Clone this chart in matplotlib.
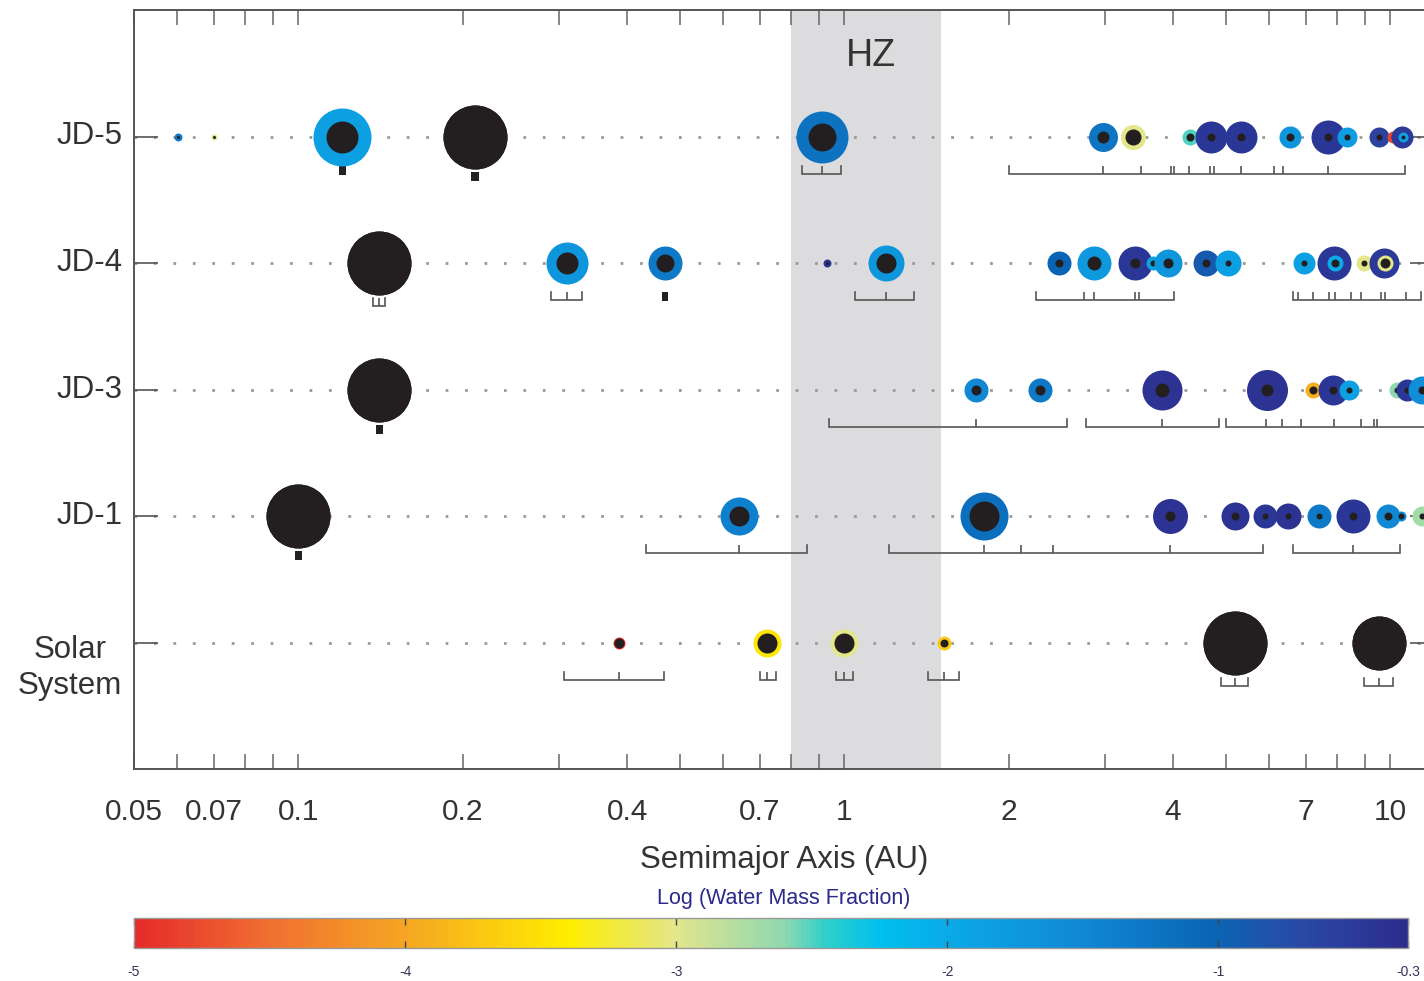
import numpy as np
import matplotlib.pyplot as plt
import matplotlib.cm as cm
from matplotlib.colors import LinearSegmentedColormap, Normalize
from matplotlib.ticker import FixedLocator, NullFormatter
from matplotlib.transforms import blended_transform_factory

plt.rcParams['font.family'] = ['Liberation Sans', 'DejaVu Sans']

# rows of the plot, top to bottom
row_names = ['JD-5', 'JD-4', 'JD-3', 'JD-1', 'Solar\nSystem']
row_y = [5, 4, 3, 2, 1]

# each planet: semimajor axis (AU), body radius, core radius, log water mass fraction
# (nan = gas giant, drawn all black)
jd5_a = [0.0603, 0.0702, 0.1204, 0.211, 0.911, 2.98, 3.38, 4.30, 4.70, 5.33, 6.56, 7.70, 8.34, 9.55, 10.1, 10.52, 10.55]
jd5_r = [4, 3, 29, 32, 26, 14.5, 12.5, 8, 16, 16, 11, 17, 10, 10, 6, 11, 5]
jd5_core = [1.5, 1.5, 16, 32, 14, 6, 8, 4, 4, 4, 4, 4, 3, 3, 2, 3, 2]
jd5_water = [-1.3, -3.0, -1.85, np.nan, -1.2, -1.25, -3.0, -2.5, -0.45, -0.45, -1.7, -0.45, -1.8, -0.6, -4.8, -0.5, -1.9]

jd4_a = [0.1407, 0.311, 0.470, 0.931, 1.194, 2.47, 2.86, 3.40, 3.68, 3.92, 4.60, 5.05, 6.96, 7.89, 7.92, 8.96, 9.75, 9.78]
jd4_r = [32, 21, 17, 4, 18, 12, 17, 17, 7, 14, 13, 13, 11, 17, 8, 8, 15, 8]
jd4_core = [32, 11, 9, 1.5, 10, 4, 7, 5, 3, 5, 4, 3, 3, 4, 4, 3, 5, 5]
jd4_water = [np.nan, -1.7, -1.3, -0.4, -1.7, -1.0, -1.75, -0.45, -1.9, -1.7, -0.9, -1.85, -1.85, -0.45, -2.0, -3.0, -0.5, -3.0]

jd3_a = [0.1407, 1.745, 2.28, 3.81, 5.95, 7.23, 7.86, 8.41, 10.30, 10.74, 11.44]
jd3_r = [32, 12, 12, 20, 20.5, 8, 15, 10, 8, 11, 14]
jd3_core = [32, 5, 5, 7, 6, 4, 4, 3, 3, 3, 4]
jd3_water = [np.nan, -1.5, -1.3, -0.4, -0.4, -3.9, -0.45, -1.85, -2.6, -0.45, -1.6]

jd1_a = [0.1, 0.642, 1.805, 3.95, 5.20, 5.90, 6.50, 7.41, 8.55, 9.92, 10.47, 11.44]
jd1_r = [32, 19, 24, 17.5, 14, 12, 13, 12, 17, 12, 5, 10]
jd1_core = [32, 10, 15, 5, 4, 3, 3, 3, 4, 4, 3, 3]
jd1_water = [np.nan, -1.4, -1.15, -0.4, -0.4, -0.45, -0.4, -1.3, -0.45, -1.5, -1.5, -2.7]

ss_a = [0.387, 0.723, 1.0, 1.524, 5.203, 9.537]
ss_r = [6, 14, 14, 7, 32, 27]
ss_core = [5, 10, 10, 4, 32, 27]
ss_water = [-5.0, -3.45, -3.0, -3.7, np.nan, np.nan]

# perihelion-aphelion ranges: (min, max, [marked a values])
jd5_br = [(0.1185, 0.1222, [0.1204]), (0.2075, 0.2145, [0.211]), (0.838, 0.987, [0.911]),
          (2.00, 10.65, [2.98, 3.50, 3.97, 4.02, 4.27, 4.68, 4.76, 5.33, 6.11, 6.37, 7.70])]
jd4_br = [(0.1371, 0.1444, [0.1407]), (0.2906, 0.331, [0.311]), (0.464, 0.476, [0.470]),
          (1.047, 1.343, [1.194]), (2.247, 4.02, [2.75, 2.86, 3.40, 3.46]),
          (6.64, 11.40, [6.78, 7.23, 7.73, 7.93, 8.48, 8.85, 9.63, 9.79, 10.70])]
jd3_br = [(0.1388, 0.1427, [0.1407]), (0.939, 2.56, [1.745]), (2.77, 4.86, [3.81]),
          (4.99, 14.0, [5.93, 6.34, 6.87, 7.89, 8.85, 9.35, 9.47])]
jd1_br = [(0.0985, 0.1015, [0.1]), (0.434, 0.856, [0.642]),
          (1.209, 5.85, [1.805, 2.11, 2.41, 3.95]), (6.64, 10.43, [8.55])]
ss_br = [(0.307, 0.467, [0.387]), (0.702, 0.751, [0.723]), (0.965, 1.035, [1.0]),
         (1.42, 1.62, [1.524]), (4.90, 5.49, [5.203]), (8.95, 10.1, [9.537])]

hz = (0.8, 1.5)

major_ticks = [0.05, 0.07, 0.1, 0.2, 0.4, 0.7, 1, 2, 4, 7, 10]
major_labels = ['0.05', '0.07', '0.1', '0.2', '0.4', '0.7', '1', '2', '4', '7', '10']
minor_ticks = [0.06, 0.08, 0.09, 0.3, 0.5, 0.6, 0.8, 0.9, 3, 5, 6, 8, 9]

# colour scale for water fraction
cb_vals = [-5, -4.5, -4, -3.4, -3, -2.6, -2.45, -2.25, -2, -1.5, -1, -0.7, -0.3]
cb_cols = ['#e52b2b', '#f07030', '#f5a623', '#ffee00', '#e2e68c', '#8fd8b0', '#2fd0c8',
           '#00c0ee', '#0aaae8', '#1188d4', '#0a64b4', '#2a4aa6', '#2c2c8c']
cb_ticks = [-5, -4, -3, -2, -1, -0.3]

norm = Normalize(-5, -0.3)
cmap = LinearSegmentedColormap.from_list(
    'water', [((v + 5) / 4.7, c) for v, c in zip(cb_vals, cb_cols)])

DARK = '#231f20'
PX = 1.44          # px radius -> marker diameter in points (dpi 100)
ROW_PX = 126.5     # pixels per row unit

fig = plt.figure(figsize=(14.24, 9.81), dpi=100)
ax = fig.add_axes([134 / 1424, 212 / 981, 1299.6 / 1424, 759 / 981])
ax.set_xscale('log')
ax.set_xlim(0.05, 12)
ax.set_ylim(0, 6)

ax.axvspan(hz[0], hz[1], color='#dcdcde', lw=0, zorder=0)
ax.text(1.12, 5.64, 'HZ', ha='center', va='center',
        fontsize=27, color='#333333', zorder=2)

for y in row_y:
    ax.axhline(y, color='#999999', lw=2.0, ls=(0, (1, 6)), zorder=1)


def draw_row(y, a, rad, core, water, brackets):
    for ai, r, c, w in zip(a, rad, core, water):
        col = DARK if np.isnan(w) else cmap(norm(w))
        ax.plot(ai, y, 'o', ms=r * PX, color=col, mec='none', zorder=4)
        ax.plot(ai, y, 'o', ms=c * PX, color=DARK, mec='none', zorder=4)
    th = 8 / ROW_PX
    for lo, hi, ticks in brackets:
        # gas giants sit a little lower
        giant = any(np.isnan(w) and abs(np.log10(ai / ticks[0])) < 0.02
                    for ai, w in zip(a, water))
        yb = y - (43 if giant else 37) / ROW_PX
        if hi / lo < 1.04:
            # nearly circular orbit: bracket collapses to a small block
            ax.fill_between([lo, hi], yb - 0.008, yb + th, color='#222222', lw=0, zorder=3)
            continue
        ax.plot([lo, lo, hi, hi], [yb + th, yb, yb, yb + th],
                color='#555555', lw=1.2, zorder=3, solid_joinstyle='miter')
        ax.vlines(ticks, yb, yb + th, color='#555555', lw=1.2, zorder=3)


draw_row(5, jd5_a, jd5_r, jd5_core, jd5_water, jd5_br)
draw_row(4, jd4_a, jd4_r, jd4_core, jd4_water, jd4_br)
draw_row(3, jd3_a, jd3_r, jd3_core, jd3_water, jd3_br)
draw_row(2, jd1_a, jd1_r, jd1_core, jd1_water, jd1_br)
draw_row(1, ss_a, ss_r, ss_core, ss_water, ss_br)

# axes styling
for s in ax.spines.values():
    s.set_color('#555555')
    s.set_linewidth(1.4)
ax.xaxis.set_major_locator(FixedLocator(major_ticks))
ax.xaxis.set_minor_locator(FixedLocator(minor_ticks))
ax.xaxis.set_minor_formatter(NullFormatter())
ax.set_xticklabels(major_labels)
ax.tick_params(axis='x', which='both', direction='in', top=True, bottom=True,
               length=11, width=1.1, color='#666666')
ax.tick_params(axis='x', which='major', pad=21, labelsize=21.5, labelcolor='#333333')
ax.set_yticks(row_y)
ax.set_yticklabels([])
ax.tick_params(axis='y', direction='in', left=True, right=True,
               length=17, width=1.2, color='#555555')

tr = blended_transform_factory(ax.transAxes, ax.transData)
for name, y in zip(row_names, row_y):
    nl = name.count('\n')
    ax.text(-0.0092, y - 0.2 * nl, name, transform=tr, ha='right', va='center',
            multialignment='center', fontsize=22.5, color='#333333', linespacing=1.25)

fig.text(0.551, 0.1233, 'Semimajor Axis (AU)', ha='center', va='center',
         fontsize=22.5, color='#333333')

# colour bar
cax = fig.add_axes([134 / 1424, 33 / 981, 1274 / 1424, 30 / 981])
cb = fig.colorbar(cm.ScalarMappable(norm=norm, cmap=cmap), cax=cax,
                  orientation='horizontal', ticks=cb_ticks)
cb.ax.set_xticklabels(['-5', '-4', '-3', '-2', '-1', '-0.3'])
cb.outline.set_edgecolor('#999999')
cb.outline.set_linewidth(1.0)
cax.tick_params(axis='x', direction='in', top=True, bottom=True, length=5,
                width=1, color='#444444', labelsize=10, labelcolor='#33335a', pad=12)
fig.text(0.5506, 0.0836, 'Log (Water Mass Fraction)', ha='center', va='center',
         fontsize=15.5, color='#2b2a8c',
         family=['Liberation Sans Narrow', 'Liberation Sans', 'DejaVu Sans'])

fig.savefig('out.png', dpi=100)
